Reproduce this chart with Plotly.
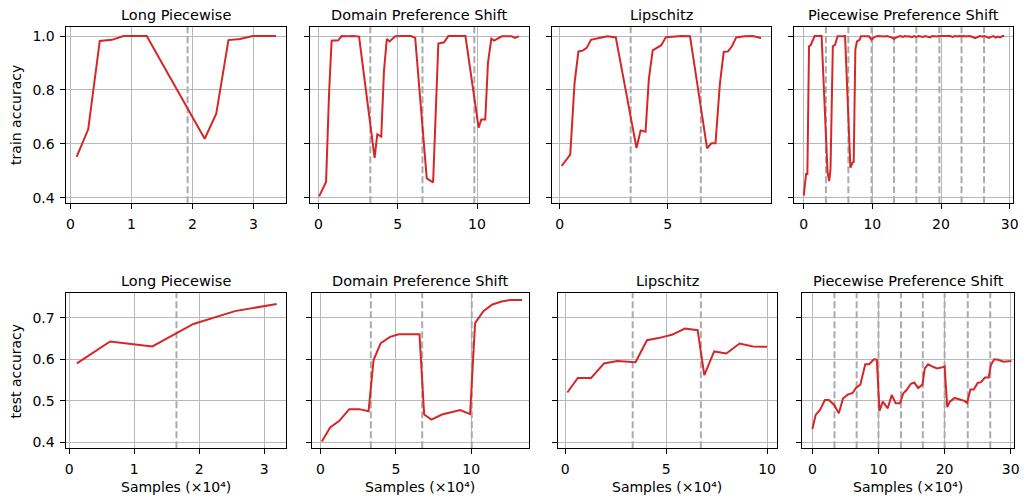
import plotly.graph_objects as go

# ---------------- data ----------------
titles = ["Long Piecewise", "Domain Preference Shift", "Lipschitz", "Piecewise Preference Shift"]

# Long Piecewise
lp_train_x = [0.10, 0.29, 0.48, 0.68, 0.87, 1.04, 1.25, 2.20, 2.39, 2.59, 2.78, 2.99, 3.18, 3.37]
lp_train_y = [0.552, 0.654, 0.982, 0.986, 1.0, 1.0, 1.0, 0.619, 0.712, 0.985, 0.989, 1.0, 1.0, 1.0]
lp_train_shifts = [1.92]
lp_test_x = [0.12, 0.63, 1.28, 1.91, 2.55, 3.19]
lp_test_y = [0.590, 0.643, 0.631, 0.685, 0.716, 0.733]
lp_test_shifts = [1.65]

# Domain Preference Shift
dp_train_x = [0.04, 0.48, 0.67, 0.83, 1.25, 1.46, 1.88, 2.19, 2.56, 3.54, 3.71, 3.96, 4.13, 4.31,
              4.48, 4.85, 5.31, 5.83, 6.10, 6.83, 7.23, 7.56, 7.92, 8.19, 8.65, 9.27, 10.10, 10.27,
              10.52, 10.69, 10.90, 11.08, 11.56, 12.19, 12.40, 12.65]
dp_train_y = [0.405, 0.459, 0.790, 0.983, 0.984, 1.0, 0.999, 1.0, 0.998, 0.548, 0.635, 0.627, 0.869, 0.989,
              0.980, 0.999, 1.0, 1.0, 0.993, 0.472, 0.457, 0.972, 0.977, 1.0, 1.0, 1.0, 0.660, 0.690,
              0.690, 0.900, 0.990, 0.983, 0.999, 0.999, 0.993, 1.0]
dp_train_shifts = [3.27, 6.56, 9.83]
dp_test_x = [0.09, 0.64, 1.25, 1.91, 2.57, 3.19, 3.52, 4.00, 4.62, 5.20, 5.87, 6.57, 6.88, 7.36,
             8.07, 8.62, 9.27, 9.93, 10.26, 10.81, 11.41, 12.02, 12.64, 13.38]
dp_test_y = [0.402, 0.436, 0.452, 0.480, 0.480, 0.475, 0.598, 0.639, 0.654, 0.660, 0.660, 0.660, 0.467, 0.455,
             0.467, 0.472, 0.478, 0.468, 0.687, 0.716, 0.732, 0.739, 0.743, 0.743]
dp_test_shifts = [3.34, 6.75, 10.04]

# Lipschitz
li_train_x = [0.09, 0.49, 0.69, 0.87, 1.07, 1.25, 1.45, 1.65, 1.83, 2.22, 2.60, 3.56, 3.75, 3.98,
              4.13, 4.31, 4.51, 4.71, 4.92, 5.28, 5.66, 6.04, 6.83, 7.03, 7.22, 7.42, 7.60, 7.80,
              7.98, 8.18, 8.56, 8.94, 9.33]
li_train_y = [0.518, 0.560, 0.826, 0.943, 0.946, 0.956, 0.986, 0.991, 0.993, 0.999, 0.995, 0.585, 0.650, 0.645,
              0.839, 0.947, 0.958, 0.966, 0.996, 0.999, 1.0, 0.999, 0.583, 0.602, 0.602, 0.820, 0.941, 0.943,
              0.962, 0.995, 0.999, 1.0, 0.993]
li_train_shifts = [3.29, 6.54]
li_test_x = [0.10, 0.62, 1.28, 1.92, 2.57, 3.48, 4.05, 4.62, 5.28, 5.93, 6.56, 6.89, 7.38, 7.98, 8.64, 9.30, 10.0]
li_test_y = [0.520, 0.555, 0.555, 0.590, 0.596, 0.593, 0.646, 0.651, 0.659, 0.674, 0.670, 0.562, 0.619, 0.614,
             0.638, 0.631, 0.630]
li_test_shifts = [3.34, 6.72]

# Piecewise Preference Shift
pp_train_x = [0.0, 0.34, 0.53, 0.77, 1.01, 1.30, 1.59, 1.93, 2.31, 2.60, 3.47, 3.71, 3.90, 4.24, 4.58,
              4.92, 5.54, 6.02, 6.80, 7.10, 7.28, 7.52, 7.76, 8.14, 8.34, 8.92, 9.50, 9.90, 10.27,
              10.80, 11.13, 11.46, 11.79, 12.12, 12.45, 12.78, 13.11, 13.44, 13.77, 14.10, 14.43, 14.76,
              15.09, 15.42, 15.75, 16.08, 16.41, 16.74, 17.07, 17.40, 17.73, 18.06, 18.39, 18.72, 19.05,
              19.38, 19.71, 20.04, 20.37, 20.70, 21.03, 21.36, 21.69, 22.02, 22.35, 22.68, 23.01, 23.34,
              23.67, 24.00, 24.33, 24.66, 24.99, 25.32, 25.65, 25.98, 26.31, 26.64, 26.97, 27.30, 27.63,
              27.96, 28.29, 28.62, 28.95, 29.20]
pp_train_y = [0.408, 0.488, 0.488, 0.962, 0.966, 0.984, 1.0, 1.0, 1.0, 1.0, 0.494, 0.462, 0.506, 0.962, 0.968,
              0.999, 0.999, 1.0, 0.512, 0.530, 0.533, 0.950, 0.980, 0.986, 0.999, 1.0, 0.999, 0.986, 0.996,
              1.0, 0.999, 1.0, 0.998, 1.0, 0.998, 0.995, 0.990, 0.995, 0.998, 1.0, 0.997, 1.0,
              0.998, 0.999, 0.996, 1.0, 0.997, 1.0, 0.999, 0.997, 1.0, 0.998, 0.995, 1.0, 0.999,
              0.998, 1.0, 1.0, 0.998, 1.0, 0.999, 1.0, 0.997, 1.0, 0.998, 1.0, 0.999, 1.0,
              0.998, 1.0, 0.999, 0.996, 0.992, 0.996, 1.0, 0.998, 1.0, 0.997, 0.993, 0.997, 1.0,
              0.994, 0.998, 0.995, 1.0, 1.0]
pp_train_shifts = [3.23, 6.50, 9.88, 13.16, 16.40, 19.76, 22.99, 26.27]
pp_test_x = [0.0, 0.5, 1.15, 1.9, 2.5, 3.3, 4.0, 4.65, 5.35, 6.1, 6.6, 7.25, 8.0, 8.6, 9.3, 9.75,
             10.15, 10.65, 11.4, 12.0, 12.6, 13.25, 13.75, 14.25, 14.9, 15.4, 16.0, 16.65, 17.0, 17.5,
             18.1, 18.85, 19.5, 20.0, 20.4, 20.8, 21.5, 22.25, 23.0, 23.4, 23.9, 24.4, 25.0, 25.5,
             26.1, 26.65, 27.0, 27.5, 28.1, 28.9, 30.1]
pp_test_y = [0.432, 0.466, 0.478, 0.502, 0.502, 0.490, 0.470, 0.506, 0.515, 0.519, 0.531, 0.539, 0.588, 0.588,
             0.600, 0.599, 0.476, 0.498, 0.482, 0.514, 0.494, 0.494, 0.518, 0.526, 0.541, 0.544, 0.531,
             0.539, 0.578, 0.588, 0.583, 0.578, 0.580, 0.583, 0.485, 0.498, 0.507, 0.503, 0.500, 0.495,
             0.527, 0.527, 0.543, 0.545, 0.556, 0.556, 0.586, 0.600, 0.599, 0.594, 0.596]
pp_test_shifts = [3.35, 6.70, 10.0, 13.4, 16.7, 20.0, 23.5, 26.9]

train_ticks_y = [0.4, 0.6, 0.8, 1.0]
test_ticks_y = [0.4, 0.5, 0.6, 0.7]
train_ticks_x = [[0, 1, 2, 3], [0, 5, 10], [0, 5], [0, 10, 20, 30]]
test_ticks_x = [[0, 1, 2, 3], [0, 5, 10], [0, 5, 10], [0, 10, 20, 30]]

train_series = [(lp_train_x, lp_train_y, lp_train_shifts), (dp_train_x, dp_train_y, dp_train_shifts),
                (li_train_x, li_train_y, li_train_shifts), (pp_train_x, pp_train_y, pp_train_shifts)]
test_series = [(lp_test_x, lp_test_y, lp_test_shifts), (dp_test_x, dp_test_y, dp_test_shifts),
               (li_test_x, li_test_y, li_test_shifts), (pp_test_x, pp_test_y, pp_test_shifts)]

# ---------------- layout ----------------
W, H = 1028, 500
# panel horizontal extents in pixels, per row
cols_px = [[(65, 286), (310, 531), (554, 775), (798, 1019)],
           [(65, 286), (312.5, 530.7), (560, 781), (806.7, 1020)]]
rows_px = [(27, 204), (294, 450)]
xranges = [[[-0.066, 3.53], [-0.56, 13.27], [-0.37, 9.79], [-1.45, 30.5]],
           [[-0.04, 3.33], [-0.56, 13.81], [-0.38, 10.49], [-1.5, 30.5]]]
yranges = [[0.38, 1.034], [0.386, 0.76]]

FONT = "DejaVu Sans"
RED = "#d62728"
FS = 14
fig = go.Figure()
layout = dict(width=W, height=H, margin=dict(l=0, r=0, t=0, b=0), showlegend=False,
              paper_bgcolor="white", plot_bgcolor="white", font=dict(family=FONT, color="black"))
annotations = []

for r, series in enumerate([train_series, test_series]):
    top, bot = rows_px[r]
    for c, (xs, ys, shifts) in enumerate(series):
        k = r * 4 + c + 1
        xa = "x" if k == 1 else f"x{k}"
        ya = "y" if k == 1 else f"y{k}"
        left, right = cols_px[r][c]
        # dashed shift markers (drawn first so the red curve lies on top)
        for s in shifts:
            fig.add_trace(go.Scatter(x=[s, s], y=yranges[r], mode="lines",
                                     line=dict(color="#ababab", width=2, dash="7px,3px"),
                                     xaxis=xa, yaxis=ya, hoverinfo="skip"))
        fig.add_trace(go.Scatter(x=xs, y=ys, mode="lines", line=dict(color=RED, width=2),
                                 xaxis=xa, yaxis=ya, hoverinfo="skip"))
        common = dict(showline=True, linecolor="black", linewidth=1, mirror=True,
                      ticks="outside", ticklen=5, tickwidth=1, tickcolor="black",
                      showgrid=True, gridcolor="#b8b8b8", gridwidth=1, zeroline=False,
                      ticklabelstandoff=3,
                      tickfont=dict(size=FS, family=FONT, color="black"))
        xticks = (train_ticks_x if r == 0 else test_ticks_x)[c]
        layout["xaxis" if k == 1 else f"xaxis{k}"] = dict(
            common, domain=[left / W, right / W], range=xranges[r][c],
            anchor=ya, tickvals=xticks, ticktext=[str(t) for t in xticks])
        yticks = train_ticks_y if r == 0 else test_ticks_y
        layout["yaxis" if k == 1 else f"yaxis{k}"] = dict(
            common, domain=[1 - bot / H, 1 - top / H], range=yranges[r], anchor=xa,
            tickvals=yticks, ticktext=[f"{t:.1f}" for t in yticks] if c == 0 else [""] * len(yticks))
        annotations.append(dict(text=titles[c], x=(left + right) / 2 / W,
                                y=1 - (top - 12) / H, xref="paper", yref="paper", showarrow=False,
                                xanchor="center", yanchor="middle", font=dict(size=14.5, family=FONT)))
        if r == 1:
            annotations.append(dict(text="Samples (×10⁴)", x=(left + right) / 2 / W,
                                    y=1 - 489 / H, xref="paper", yref="paper", showarrow=False,
                                    xanchor="center", yanchor="middle", font=dict(size=14, family=FONT)))

for label, (top, bot) in zip(["train accuracy", "test accuracy"], rows_px):
    annotations.append(dict(text=label, x=14 / W, y=1 - (top + bot) / 2 / H, xref="paper", yref="paper",
                            showarrow=False, textangle=-90, xanchor="center", yanchor="middle",
                            font=dict(size=14, family=FONT)))

layout["annotations"] = annotations
fig.update_layout(**layout)
fig.write_html("out.html", config={"displayModeBar": False},
               post_script="document.body.style.margin='0px';")
